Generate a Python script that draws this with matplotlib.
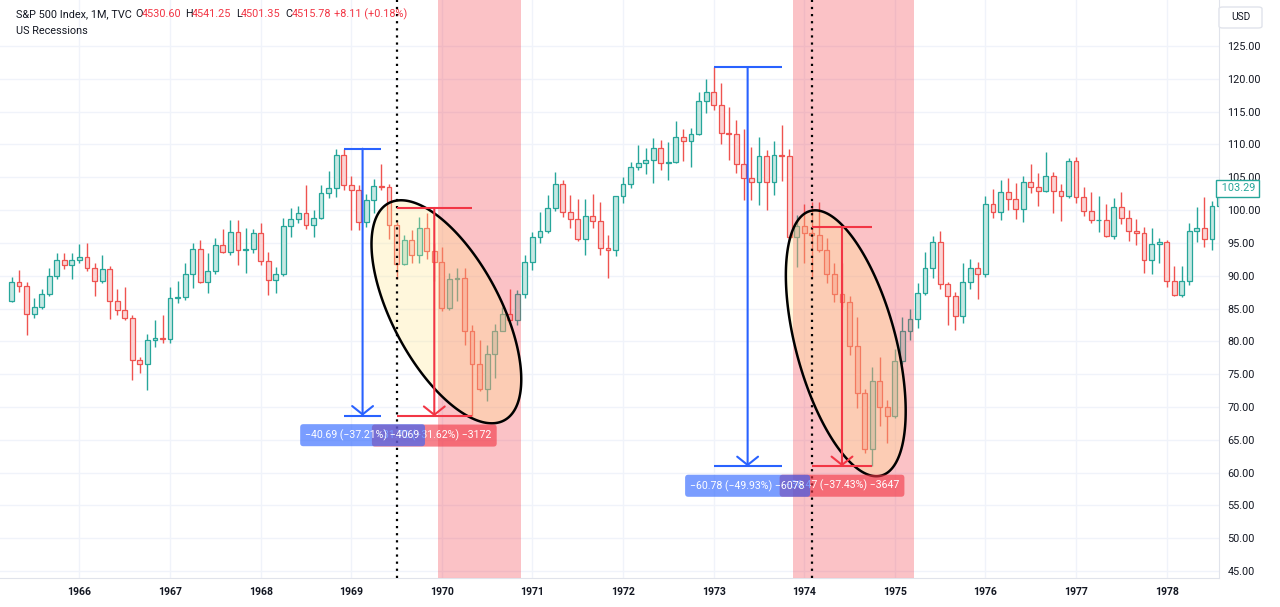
import numpy as np
import matplotlib.pyplot as plt
from matplotlib.patches import Polygon, FancyBboxPatch
from matplotlib.ticker import FuncFormatter
import matplotlib.transforms as mtransforms

plt.rcParams['font.family'] = ['Roboto', 'DejaVu Sans']

# S&P 500 monthly bars, Apr 1965 .. Aug 1978
FIRST_YEAR, FIRST_MONTH = 1965, 4

opens = [
    86.16, 89.11, 88.42, 84.12, 85.25, 87.17, 89.96, 92.42, 91.61,
    92.43, 92.88, 91.22, 89.23, 91.06, 86.13, 84.74, 83.60, 77.10, 76.56, 80.20, 80.45,
    80.33, 86.61, 86.78, 90.20, 94.01, 89.08, 90.64, 94.75, 93.64, 96.71, 93.90, 94.00,
    96.47, 92.24, 89.36, 90.20, 97.59, 98.68, 99.58, 97.74, 98.86, 102.67, 103.41, 108.37,
    103.86, 103.01, 98.13, 101.51, 103.69, 103.46, 97.71, 91.83, 95.51, 93.12, 97.24, 93.81,
    92.06, 85.02, 89.50, 89.63, 81.52, 76.55, 72.72, 78.05, 81.52, 84.21, 83.25, 87.20,
    92.15, 95.88, 96.75, 100.31, 103.95, 99.63, 98.70, 95.58, 99.03, 98.34, 94.23, 93.99,
    102.09, 103.94, 106.57, 107.20, 107.67, 109.53, 107.14, 107.39, 111.09, 110.55, 111.58, 116.67,
    118.05, 116.03, 111.68, 111.52, 106.97, 104.95, 104.26, 108.22, 104.25, 108.43, 108.29, 95.96,
    97.55, 96.57, 96.22, 93.98, 90.31, 87.28, 86.00, 79.31, 72.15, 63.54, 73.90, 69.97,
    68.56, 76.98, 81.59, 83.36, 87.30, 91.15, 95.19, 88.75, 86.88, 83.87, 89.04, 91.24,
    90.19, 100.86, 99.71, 102.77, 101.64, 100.18, 104.28, 103.44, 102.91, 105.24, 102.90, 102.10,
    107.46, 102.03, 99.82, 98.42, 98.44, 96.12, 100.48, 98.85, 96.77, 96.53, 92.34, 94.83,
    95.10, 89.25, 87.04, 89.21, 96.83, 97.24, 95.53, 100.68,
]
highs = [
    89.75, 90.87, 89.10, 86.65, 87.97, 91.22, 93.41, 93.50, 93.40,
    94.83, 94.93, 91.90, 93.15, 91.50, 87.90, 88.30, 84.00, 77.66, 81.07, 83.25, 84.00,
    88.30, 89.20, 91.90, 94.93, 95.44, 93.50, 95.70, 97.07, 98.50, 98.50, 97.20, 97.07,
    98.00, 93.66, 91.37, 98.74, 100.27, 100.60, 103.80, 100.00, 103.80, 106.00, 109.26, 109.35,
    105.20, 103.80, 102.45, 104.70, 107.00, 104.00, 98.20, 96.20, 96.96, 99.00, 99.50, 95.00,
    94.40, 90.40, 91.10, 91.10, 82.50, 80.20, 79.40, 82.60, 85.27, 87.90, 87.80, 93.15,
    96.70, 99.76, 102.30, 105.85, 104.60, 102.30, 101.70, 101.70, 102.45, 101.20, 96.20, 102.20,
    105.10, 107.40, 109.90, 109.50, 111.00, 110.70, 110.40, 113.60, 112.30, 112.50, 118.04, 119.90,
    121.73, 119.30, 115.75, 113.70, 112.35, 109.66, 111.20, 109.15, 110.60, 112.90, 109.35, 99.25,
    101.00, 101.28, 101.28, 95.70, 91.90, 92.00, 86.90, 83.75, 72.80, 76.14, 77.66, 71.00,
    78.78, 83.75, 85.00, 88.93, 93.66, 96.05, 96.80, 89.00, 87.56, 91.90, 92.50, 92.10,
    102.14, 103.20, 104.58, 104.84, 104.17, 105.20, 107.00, 105.60, 108.90, 105.85, 103.97, 107.90,
    108.13, 103.47, 102.80, 102.20, 101.00, 101.80, 102.80, 100.00, 98.60, 97.37, 97.20, 95.70,
    95.40, 91.50, 91.50, 97.98, 100.42, 102.05, 101.43, 105.00,
]
lows = [
    86.00, 87.56, 81.00, 83.50, 84.97, 86.95, 89.55, 91.06, 89.45,
    91.89, 90.70, 86.95, 88.90, 83.40, 84.00, 83.25, 74.10, 75.20, 72.58, 79.20, 79.70,
    79.70, 85.90, 86.30, 88.10, 88.90, 87.40, 90.30, 93.40, 93.15, 91.60, 90.40, 93.50,
    91.60, 87.06, 87.30, 89.90, 95.94, 98.00, 97.07, 95.90, 98.70, 101.90, 102.04, 103.06,
    96.96, 96.96, 97.37, 99.60, 103.00, 95.54, 89.50, 91.60, 92.00, 92.00, 92.50, 89.20,
    84.66, 84.77, 86.20, 79.40, 68.60, 72.40, 70.95, 74.40, 81.50, 83.10, 82.50, 86.56,
    90.90, 95.00, 96.46, 99.86, 98.90, 97.20, 95.33, 93.15, 97.20, 93.15, 89.60, 93.00,
    101.10, 103.30, 106.10, 105.50, 104.10, 106.10, 104.60, 107.10, 107.50, 106.50, 111.40, 114.80,
    115.25, 110.00, 107.60, 105.70, 101.50, 101.60, 100.70, 100.00, 102.30, 104.50, 95.40, 91.40,
    91.90, 89.85, 93.66, 88.84, 86.04, 85.30, 77.90, 69.80, 62.94, 60.96, 67.10, 64.46,
    68.30, 76.60, 80.20, 82.00, 87.00, 89.60, 87.93, 82.50, 81.70, 82.84, 88.00, 86.40,
    89.80, 98.74, 98.50, 100.00, 98.60, 98.20, 102.55, 100.60, 102.80, 99.50, 98.38, 101.90,
    101.10, 99.10, 97.98, 96.70, 95.85, 95.60, 97.90, 95.33, 94.68, 90.46, 90.26, 92.00,
    88.33, 86.90, 86.70, 88.60, 95.20, 94.33, 93.90, 100.30,
]
closes = [
    89.11, 88.42, 84.12, 85.25, 87.17, 89.96, 92.42, 91.61, 92.43,
    92.88, 91.22, 89.23, 91.06, 86.13, 84.74, 83.60, 77.10, 76.56, 80.20, 80.45, 80.33,
    86.61, 86.78, 90.20, 94.01, 89.08, 90.64, 94.75, 93.64, 96.71, 93.90, 94.00, 96.47,
    92.24, 89.36, 90.20, 97.59, 98.68, 99.58, 97.74, 98.86, 102.67, 103.41, 108.37, 103.86,
    103.01, 98.13, 101.51, 103.69, 103.46, 97.71, 91.83, 95.51, 93.12, 97.24, 93.81, 92.06,
    85.02, 89.50, 89.63, 81.52, 76.55, 72.72, 78.05, 81.52, 84.21, 83.25, 87.20, 92.15,
    95.88, 96.75, 100.31, 103.95, 99.63, 98.70, 95.58, 99.03, 98.34, 94.23, 93.99, 102.09,
    103.94, 106.57, 107.20, 107.67, 109.53, 107.14, 107.39, 111.09, 110.55, 111.58, 116.67, 118.05,
    116.03, 111.68, 111.52, 106.97, 104.95, 104.26, 108.22, 104.25, 108.43, 108.29, 95.96, 97.55,
    96.57, 96.22, 93.98, 90.31, 87.28, 86.00, 79.31, 72.15, 63.54, 73.90, 69.97, 68.56,
    76.98, 81.59, 83.36, 87.30, 91.15, 95.19, 88.75, 86.88, 83.87, 89.04, 91.24, 90.19,
    100.86, 99.71, 102.77, 101.64, 100.18, 104.28, 103.44, 102.91, 105.24, 102.90, 102.10, 107.46,
    102.03, 99.82, 98.42, 98.44, 96.12, 100.48, 98.85, 96.77, 96.53, 92.34, 94.83, 95.10,
    89.25, 87.04, 89.21, 96.83, 97.24, 95.53, 100.68, 103.29,
]

year_ticks = list(range(1966, 1979))
price_ticks = list(range(45, 126, 5))

# NBER recessions (peak month, trough month)
recessions = [((1969, 12), (1970, 11)), ((1973, 11), (1975, 3))]
# dotted vertical cursor lines
cursor_months = [(1969, 7), (1974, 2)]

# price-range drawings
measures = [
    dict(start=(1969, 7), end=(1970, 5), top=100.32, bottom=68.60,
         color='#f23645', label='\u221231.72 (\u221231.62%) \u22123172'),
    dict(start=(1968, 12), end=(1969, 5), top=109.35, bottom=68.66,
         color='#2962ff', label='\u221240.69 (\u221237.21%) \u22124069'),
    dict(start=(1974, 2), end=(1974, 10), top=97.43, bottom=60.96,
         color='#f23645', label='\u221236.47 (\u221237.43%) \u22123647'),
    dict(start=(1973, 1), end=(1973, 10), top=121.73, bottom=60.95,
         color='#2962ff', label='\u221260.78 (\u221249.93%) \u22126078'),
]

# ellipse drawings: centre (month index, price), semi-axes in pixels, angle
ellipses = [
    dict(center=(57.6, 84.5), a=123, b=54, angle=-62),
    dict(center=(110.5, 79.7), a=137, b=50, angle=-75),
]


def month_index(year, month):
    return (year - FIRST_YEAR) * 12 + (month - FIRST_MONTH)


W, H = 1280, 607
fig = plt.figure(figsize=(W / 100, H / 100), dpi=100)
ax = fig.add_axes([0, 29 / H, 1219 / W, 578 / H])

n = len(closes)
xs = np.arange(n)
o = np.array(opens)
h = np.array(highs)
l = np.array(lows)
c = np.array(closes)
up = c >= o

GREEN, RED = '#26a69a', '#ef5350'
edge = np.where(up, GREEN, RED)
face = np.where(up, '#c6e8e3', '#fbd4d4')

ax.vlines(xs, l, h, colors=edge, lw=1.0, zorder=2)
ax.bar(xs, np.maximum(np.abs(c - o), 0.06), bottom=np.minimum(o, c), width=0.64,
       color=face, edgecolor=edge, linewidth=0.9, zorder=2.5)

for peak, trough in recessions:
    ax.axvspan(month_index(*peak) + 0.5, month_index(*trough) + 0.5,
               color='#f23645', alpha=0.3, lw=0, zorder=3)

ax.set_xlim(-11.5 / 7.55, (1219 - 11.5) / 7.55)
ax.set_ylim(125 - (578 - 46) / 6.5625, 125 + 46 / 6.5625)

# grid & axes
ax.set_xticks([month_index(y, 1) for y in year_ticks])
ax.set_xticklabels([str(y) for y in year_ticks])
ax.set_yticks(price_ticks)
ax.yaxis.set_major_formatter(FuncFormatter(lambda v, p: f'{v:.2f}'))
ax.yaxis.tick_right()
ax.tick_params(axis='y', length=0, pad=6, labelsize=7.8, labelcolor='#131722')
ax.tick_params(axis='x', length=0, pad=6.5, labelsize=7.6, labelcolor='#131722')
for t in ax.get_xticklabels():
    t.set_fontweight('bold')
ax.grid(True, color='#f0f3fa', lw=1, zorder=0)
ax.set_axisbelow(True)
for side in ['top', 'left']:
    ax.spines[side].set_visible(False)
for side in ['right', 'bottom']:
    ax.spines[side].set_color('#e0e3eb')

# pixel scale for drawings
p0 = ax.transData.transform((0, 0))
p1 = ax.transData.transform((1, 1))
px_x, px_y = p1[0] - p0[0], p1[1] - p0[1]

# ellipses
t = np.linspace(0, 2 * np.pi, 300)
for e in ellipses:
    phi = np.deg2rad(e['angle'])
    dx = e['a'] * np.cos(t) * np.cos(phi) - e['b'] * np.sin(t) * np.sin(phi)
    dy = e['a'] * np.cos(t) * np.sin(phi) + e['b'] * np.sin(t) * np.cos(phi)
    pts = np.column_stack([e['center'][0] + dx / px_x, e['center'][1] + dy / px_y])
    ax.add_patch(Polygon(pts, closed=True, facecolor=(1.0, 0.90, 0.55, 0.3),
                         edgecolor='black', lw=1.8, zorder=5))

# dotted cursors
for ym in cursor_months:
    ax.axvline(month_index(*ym), color='black', ls=(0, (1, 2.2)), lw=1.6, zorder=6)

# price range measures
for k, m in enumerate(measures):
    x0 = month_index(*m['start'])
    x1 = month_index(*m['end'])
    xm = (x0 + x1) / 2
    col = m['color']
    ax.hlines([m['top'], m['bottom']], x0, x1, colors=col, lw=1.5, zorder=7 + k)
    ax.annotate('', xy=(xm, m['bottom']), xytext=(xm, m['top']),
                arrowprops=dict(arrowstyle='->,head_length=0.6,head_width=0.75',
                                color=col, lw=1.5, shrinkA=0, shrinkB=0),
                zorder=7 + k)
    ax.annotate(m['label'], xy=(xm, m['bottom']), xytext=(0, -14),
                textcoords='offset points', ha='center', va='center',
                color='white', fontsize=7.6, zorder=20 + k,
                bbox=dict(boxstyle='round,pad=0.5,rounding_size=0.3',
                          fc=col, ec='none', alpha=0.62))

# last value label
trans = mtransforms.blended_transform_factory(ax.transAxes, ax.transData)
ax.text(1.0, closes[-1], f' {closes[-1]:.2f}', transform=trans, ha='left', va='center',
        fontsize=7.8, color=GREEN, clip_on=False, zorder=30,
        bbox=dict(boxstyle='square,pad=0.3', fc='white', ec=GREEN, lw=1))

# USD box
fig.patches.append(FancyBboxPatch((1219 / W, 1 - 28 / H), 43 / W, 21 / H,
                                  boxstyle='round,pad=0,rounding_size=0.003',
                                  transform=fig.transFigure, fc='white',
                                  ec='#e0e3eb', lw=1))
fig.text(1240.5 / W, 1 - 17.5 / H, 'USD', ha='center', va='center',
         fontsize=7.3, color='#131722')

# header
hdr_y = 1 - 14 / H
fig.text(16 / W, hdr_y, 'S&P 500 Index, 1M, TVC', ha='left', va='center',
         fontsize=7.8, color='#131722')
pieces = [(135, 'O', '#131722'), (142, '4530.60', '#f23645'),
          (185, 'H', '#131722'), (192, '4541.25', '#f23645'),
          (236, 'L', '#131722'), (241, '4501.35', '#f23645'),
          (285, 'C', '#131722'), (292, '4515.78', '#f23645'),
          (334, '+8.11 (+0.18%)', '#f23645')]
for px, txt, col in pieces:
    fig.text(px / W, hdr_y, txt, ha='left', va='center', fontsize=7.8, color=col)
fig.text(16 / W, 1 - 31 / H, 'US Recessions', ha='left', va='center',
         fontsize=7.8, color='#131722')

fig.savefig('out.png', dpi=100, facecolor='white')
